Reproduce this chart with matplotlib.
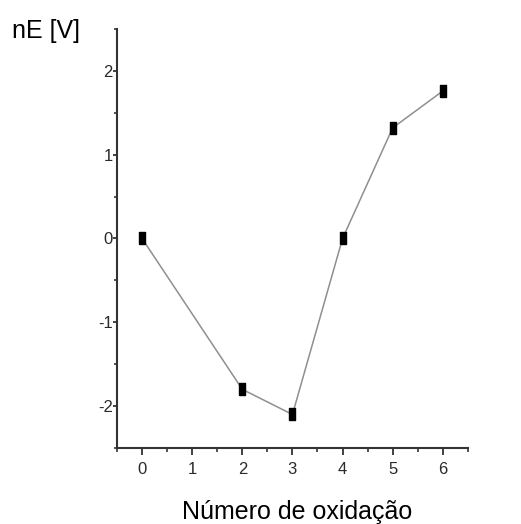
import numpy as np
import matplotlib
matplotlib.use('Agg')
import matplotlib.pyplot as plt
from matplotlib.ticker import MultipleLocator

plt.rcParams['font.family'] = ['Liberation Sans', 'DejaVu Sans']
plt.rcParams['axes.unicode_minus'] = False

# dane
ox_num = [0, 2, 3, 4, 5, 6]
nE = [0.0, -1.80, -2.10, 0.0, 1.32, 1.76]
x_ticks = [0, 1, 2, 3, 4, 5, 6]
y_ticks = [-2, -1, 0, 1, 2]

fig = plt.figure(figsize=(5.21, 5.24), dpi=100)
ax = fig.add_axes([0.2246, 0.145, 0.898 - 0.2246, 0.9447 - 0.145])

rect = [(-1.6, -3), (1.6, -3), (1.6, 3), (-1.6, 3), (-1.6, -3)]
ax.plot(ox_num, nE, '-', color='#8f8f8f', lw=1.1, zorder=2)
ax.plot(ox_num, nE, ls='none', marker=rect, ms=9, color='black', zorder=3)

ax.set_xlim(-0.5, 6.5)
ax.set_ylim(-2.5, 2.5)
ax.set_xticks(x_ticks)
ax.set_yticks(y_ticks)
ax.xaxis.set_minor_locator(MultipleLocator(0.5))
ax.yaxis.set_minor_locator(MultipleLocator(0.5))

for s in ['top', 'right']:
    ax.spines[s].set_visible(False)
for s in ['left', 'bottom']:
    ax.spines[s].set_linewidth(1.5)
    ax.spines[s].set_color('#333333')

ax.tick_params(axis='x', which='major', direction='out', length=5, width=1.3,
               color='#333333', labelsize=12, labelcolor='#2a2a2a', pad=5)
ax.tick_params(axis='x', which='minor', direction='out', length=3, width=1.2,
               color='#333333')
ax.tick_params(axis='y', which='major', direction='out', length=3, width=1.3,
               color='#333333', labelsize=12, labelcolor='#2a2a2a', pad=0)
ax.tick_params(axis='y', which='minor', direction='out', length=2, width=1.2,
               color='#333333')

fig.text(0.023, 0.927, 'nE [V]', fontsize=18, ha='left', va='baseline')
fig.text(0.571, 0.0095, 'Número de oxidação', fontsize=18, ha='center', va='baseline')

fig.savefig('out.png', dpi=100)
